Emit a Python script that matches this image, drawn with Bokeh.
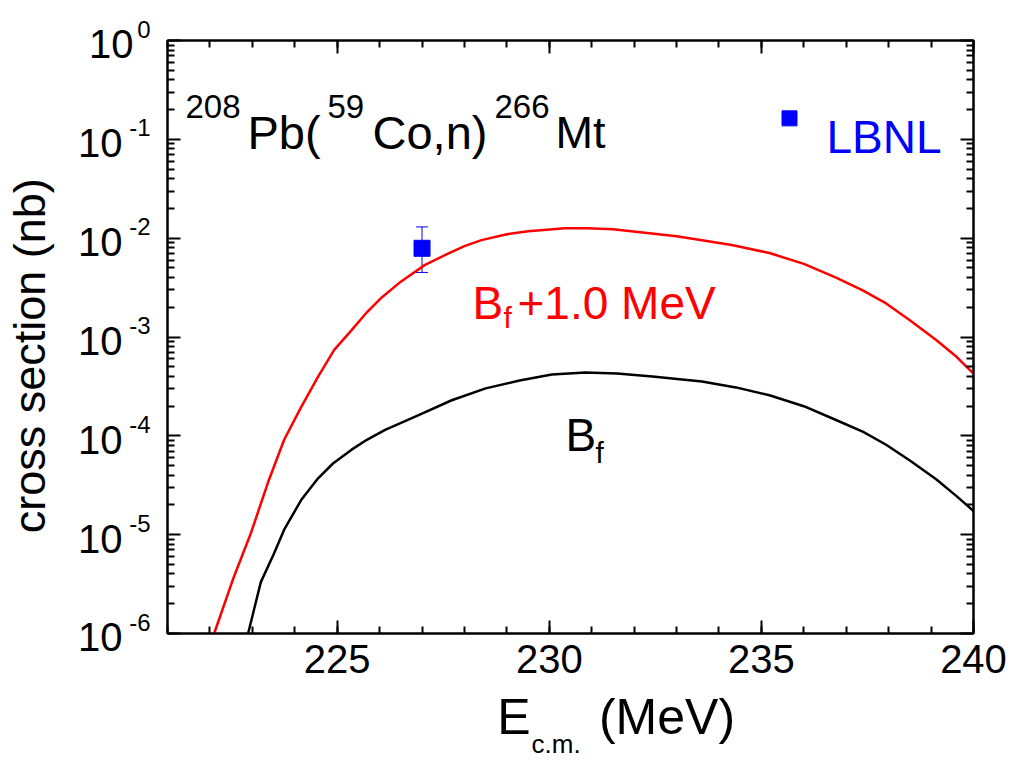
import numpy as np
from bokeh.plotting import figure
from bokeh.models import (Range1d, LogAxis, LinearAxis, FixedTicker, Label,
                          Whisker, TeeHead, ColumnDataSource, CustomJSTickFormatter)
from bokeh.embed import file_html
from bokeh.resources import INLINE

# ---------------- data ----------------
# B_f + 1.0 MeV curve (red)
e_bf1 = [222.10, 222.57, 222.97, 223.37, 223.75, 224.15, 224.55, 224.93, 225.34, 225.70,
         226.05, 226.50, 227.07, 227.60, 228.00, 228.40, 229.00, 229.50, 230.37, 230.90,
         231.50, 232.36, 233.00, 233.60, 234.30, 235.19, 236.00, 236.76, 237.40, 237.94,
         238.50, 239.12, 239.60, 240.00]
logsig_bf1 = [-6.00, -5.42, -4.98, -4.47, -4.04, -3.71, -3.40, -3.13, -2.93, -2.75,
              -2.60, -2.44, -2.27, -2.16, -2.08, -2.02, -1.96, -1.93, -1.90, -1.90,
              -1.91, -1.95, -1.98, -2.02, -2.07, -2.15, -2.26, -2.40, -2.53, -2.66,
              -2.83, -3.03, -3.20, -3.37]
# B_f curve (black)
e_bf = [222.90, 223.20, 223.50, 223.75, 224.15, 224.55, 224.90, 225.34, 225.70, 226.13,
        226.92, 227.70, 228.50, 229.30, 230.06, 230.85, 231.60, 232.43, 233.60, 234.40,
        235.19, 236.00, 236.76, 237.40, 237.94, 238.50, 239.12, 239.60, 240.00]
logsig_bf = [-6.00, -5.48, -5.20, -4.95, -4.65, -4.43, -4.28, -4.14, -4.04, -3.94,
             -3.79, -3.64, -3.52, -3.44, -3.38, -3.36, -3.37, -3.40, -3.45, -3.51,
             -3.59, -3.70, -3.84, -3.96, -4.09, -4.25, -4.44, -4.61, -4.76]
sig_bf1 = [10 ** v for v in logsig_bf1]
sig_bf = [10 ** v for v in logsig_bf]

# LBNL measurement
exp_e = [227.0]
exp_sig = [7.9e-3]
exp_hi = [1.3e-2]
exp_lo = [4.5e-3]

x_major = [225, 230, 235, 240]
x_minor = list(range(221, 241))
y_exponents = [0, -1, -2, -3, -4, -5, -6]
x_title_parts = ["E", "(MeV)"]

# ---------------- layout ----------------
W, H = 1012, 761
FL, FR, FT, FB = 167, 973, 40, 634
X0, X1 = 221, 240
LY0, LY1 = -6, 0
FONT = "Liberation Sans"
NB = "\u00a0"


def dx(px):
    return X0 + (px - FL) / (FR - FL) * (X1 - X0)


def dy(py):
    return 10 ** (LY0 + (FB - py) / (FB - FT) * (LY1 - LY0))


p = figure(width=W, height=H, x_range=Range1d(X0, X1), y_range=Range1d(10 ** LY0, 10 ** LY1),
           y_axis_type="log", output_backend="svg", toolbar_location=None,
           min_border_left=FL, min_border_right=W - FR, min_border_top=FT,
           min_border_bottom=H - FB)
p.grid.visible = False
p.outline_line_color = "black"
p.outline_line_width = 2
p.background_fill_color = "white"
p.border_fill_color = "white"

xt = FixedTicker(ticks=x_major, minor_ticks=x_minor)
yt = FixedTicker(ticks=[10.0 ** e for e in y_exponents],
                 minor_ticks=[k * 10.0 ** e for e in range(-6, 0) for k in range(2, 10)])


def ticks_style(ax):
    ax.axis_line_width = 2
    ax.axis_line_color = "black"
    ax.major_tick_in = 13
    ax.major_tick_out = 0
    ax.minor_tick_in = 7
    ax.minor_tick_out = 0
    ax.major_tick_line_width = 2
    ax.minor_tick_line_width = 2
    ax.major_tick_line_color = "black"
    ax.minor_tick_line_color = "black"


def no_ticks(ax):
    ax.axis_line_color = None
    ax.major_tick_line_color = None
    ax.minor_tick_line_color = None
    ax.major_tick_in = 0
    ax.major_tick_out = 0
    ax.minor_tick_in = 0
    ax.minor_tick_out = 0


# bottom axis: ticks + numbers
bx = p.xaxis[0]
bx.ticker = xt
ticks_style(bx)
bx.major_label_text_font = FONT
bx.major_label_text_font_size = "40px"
bx.major_label_text_color = "black"
bx.major_label_standoff = 11

# second bottom axis: the x title "E_c.m. (MeV)"
bx2 = LinearAxis(ticker=FixedTicker(ticks=[dx(513.5), dx(666.5)]),
                 formatter=CustomJSTickFormatter(args=dict(names=x_title_parts),
                                                 code="return names[index]"))
no_ticks(bx2)
bx2.major_label_text_font = FONT
bx2.major_label_text_font_size = "50px"
bx2.major_label_text_color = "black"
bx2.major_label_standoff = 13
bx2.axis_label = "c.m." + NB * 4
bx2.axis_label_text_font = FONT
bx2.axis_label_text_font_size = "26px"
bx2.axis_label_text_font_style = "normal"
bx2.axis_label_text_color = "black"
bx2.axis_label_standoff = -19
p.add_layout(bx2, "below")

# left axis: ticks + exponents (raised by an empty second line)
ly = p.yaxis[0]
ly.ticker = yt
ticks_style(ly)
ly.formatter = CustomJSTickFormatter(
    code="return String(Math.round(Math.log10(tick))) + '\\n ';")
ly.major_label_text_font = FONT
ly.major_label_text_font_size = "24px"
ly.major_label_text_line_height = 0.85
ly.major_label_text_color = "black"
ly.major_label_standoff = 17

# second left axis: the "10" bases and the y title
ly2 = LogAxis(ticker=FixedTicker(ticks=[10.0 ** e for e in y_exponents]),
              formatter=CustomJSTickFormatter(
                  code="return Math.round(Math.log10(tick)) == 0 ? '\\n10' : '\\n10\\u00a0';"))
no_ticks(ly2)
ly2.major_label_text_font = FONT
ly2.major_label_text_font_size = "40px"
ly2.major_label_text_line_height = 0.175
ly2.major_label_text_color = "black"
ly2.major_label_standoff = -7
ly2.axis_label = "cross section (nb)" + NB * 3
ly2.axis_label_text_font = FONT
ly2.axis_label_text_font_size = "45px"
ly2.axis_label_text_font_style = "normal"
ly2.axis_label_text_color = "black"
ly2.axis_label_standoff = 20
p.add_layout(ly2, "left")

# mirrored tick axes on top and right
top_ax = LinearAxis(ticker=xt, formatter=CustomJSTickFormatter(code="return ''"))
right_ax = LogAxis(ticker=yt, formatter=CustomJSTickFormatter(code="return ''"))
for ax in (top_ax, right_ax):
    ticks_style(ax)
    ax.major_label_standoff = 0
p.add_layout(top_ax, "above")
p.add_layout(right_ax, "right")

# curves
p.line(e_bf1, sig_bf1, line_color="#ff0000", line_width=2.5)
p.line(e_bf, sig_bf, line_color="black", line_width=2.5)

# measurement
wsrc = ColumnDataSource(dict(base=exp_e, upper=exp_hi, lower=exp_lo))
wh = Whisker(source=wsrc, base="base", upper="upper", lower="lower", line_color="#0000ff",
             line_width=1, level="underlay",
             upper_head=TeeHead(size=12, line_color="#0000ff", line_width=1),
             lower_head=TeeHead(size=12, line_color="#0000ff", line_width=1))
p.add_layout(wh)
p.scatter(exp_e, exp_sig, marker="square", size=16, fill_color="#0000ff",
          line_color="#0000ff")

# legend key (marker placed at a layout position, plus its label)
p.scatter([dx(789)], [dy(118)], marker="square", size=15, fill_color="#0000ff",
          line_color="#0000ff")


def lab(text, px, py, size, color="black", align="left"):
    p.add_layout(Label(x=px - FL, y=FB - py, x_units="screen", y_units="screen",
                       text=text, text_font=FONT,
                       text_font_size=f"{size}px", text_color=color, text_align=align,
                       text_baseline="alphabetic"))


lab("LBNL", 826, 137, 46, color="#0000ff")

# reaction title
lab("208", 185, 107, 33)
lab("Pb(", 247, 133, 47)
lab("59", 327, 107, 33)
lab("Co,n)", 372, 133, 47)
lab("266", 494, 107, 33)
lab("Mt", 555, 133, 45)

# curve labels
lab("B", 472, 303, 46, color="#ff0000")
lab("f", 503, 318, 30, color="#ff0000")
lab("+1.0 MeV", 517, 303, 46, color="#ff0000")
lab("B", 565, 435, 46)
lab("f", 595, 453, 30)

open("out.html", "w").write(file_html(p, INLINE))
